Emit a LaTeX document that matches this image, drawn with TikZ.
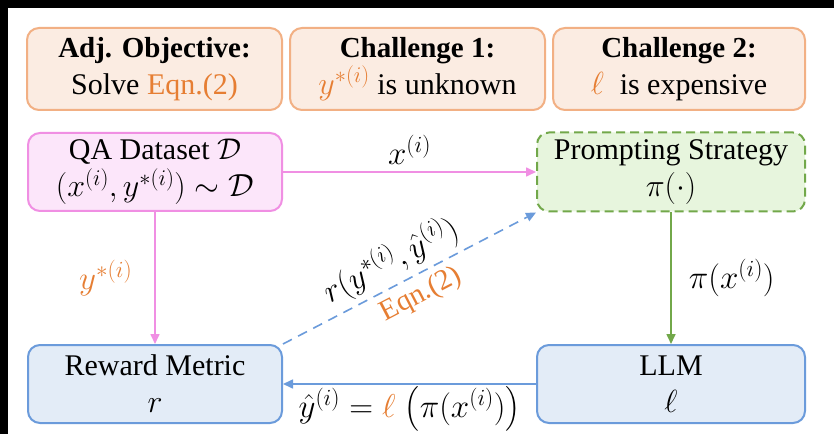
\RequirePackage{fix-cm}
\documentclass[tikz,border=0pt]{standalone}
\usepackage{fontspec}
\setmainfont{Liberation Serif}
\usepackage{amsmath}
\usetikzlibrary{arrows.meta}

\definecolor{accent}{HTML}{E67E33}
\definecolor{topfill}{HTML}{FBECE2}
\definecolor{topdraw}{HTML}{F2B084}
\definecolor{pinkfill}{HTML}{FCE6FA}
\definecolor{pinkdraw}{HTML}{F08FE3}
\definecolor{greenfill}{HTML}{E7F5DD}
\definecolor{greendraw}{HTML}{72A84A}
\definecolor{bluefill}{HTML}{E3ECF7}
\definecolor{bluedraw}{HTML}{6B9BDB}

% larger size for formulas set on their own line
\newcommand{\mathline}[1]{{\fontsize{32}{36}\selectfont #1}}
\newcommand{\headline}[1]{{\fontsize{29}{36}\selectfont\bfseries #1}}

\tikzset{
  x=1pt, y=1pt,
  box/.style={rectangle, rounded corners=12pt, line width=2pt, align=center,
    inner sep=0pt, font=\fontsize{30}{37}\selectfont},
  topbox/.style={box, draw=topdraw, fill=topfill, minimum height=82pt},
  pinkbox/.style={box, draw=pinkdraw, fill=pinkfill, minimum width=254pt, minimum height=78pt},
  greenbox/.style={box, draw=greendraw, fill=greenfill, dash pattern=on 9pt off 5pt,
    minimum width=268pt, minimum height=79pt},
  bluebox/.style={box, draw=bluedraw, fill=bluefill, minimum height=78pt},
  conn/.style={line width=1.6pt, -{Triangle[length=10pt,width=9pt]}},
  lbl/.style={font=\fontsize{33}{38}\selectfont, inner sep=2pt},
}

\begin{document}
\begin{tikzpicture}
  \useasboundingbox (0,0) rectangle (834,434);
  \fill[white] (0,0) rectangle (834,434);
  % dark strips along the top and left edges
  \fill[black] (0,426) rectangle (834,434);
  \fill[black] (0,0) rectangle (8,434);

  % header row
  \node[topbox, minimum width=255pt] (obj) at (154.5,365)
    {\headline{Adj. Objective:}\\ Solve \textcolor{accent}{Eqn.(2)}};
  \node[topbox, minimum width=255pt] (ch1) at (417.5,365)
    {\headline{Challenge 1:}\\ \textcolor{accent}{\mathline{$y^{*(i)}$}} is unknown};
  \node[topbox, minimum width=252pt] (ch2) at (679,365)
    {\headline{Challenge 2:}\\ \textcolor{accent}{\mathline{$\ell$}}\; is expensive};

  % main blocks
  \node[pinkbox] (qa) at (155,262)
    {QA Dataset $\mathcal{D}$\\ \mathline{$(x^{(i)}, y^{*(i)}) \sim \mathcal{D}$}};
  \node[greenbox] (ps) at (671,262)
    {Prompting Strategy\\ \mathline{$\pi(\cdot)$}};
  \node[bluebox, minimum width=254pt] (rm) at (155,50)
    {Reward Metric\\ \mathline{$r$}};
  \node[bluebox, minimum width=268pt] (llm) at (671,50)
    {LLM\\ \mathline{$\ell$}};

  % connectors
  \draw[conn, pinkdraw] (qa.east) -- node[lbl, above=5pt, text=black] {$x^{(i)}$} (ps.west);
  \draw[conn, pinkdraw] (qa.south) -- node[lbl, left=20pt, text=accent] {$y^{*(i)}$} (rm.north);
  \draw[conn, greendraw] (ps.south) -- node[lbl, right=15pt, text=black] {$\pi(x^{(i)})$} (llm.north);
  \draw[conn, bluedraw] (llm.west) -- node[lbl, below=0pt, text=black]
    {$\hat{y}^{(i)} = \textcolor{accent}{\ell}\;\big(\pi(x^{(i)})\big)$} (rm.east);
  \draw[conn, bluedraw, dash pattern=on 10pt off 7pt] (rm.north east) --
    node[lbl, pos=0.47, sloped, above=3pt, text=black] {$r(y^{*(i)}, \hat{y}^{(i)})$}
    node[lbl, pos=0.51, sloped, below=4pt, text=accent, font=\fontsize{29}{32}\selectfont] {Eqn.(2)}
    (ps.south west);
\end{tikzpicture}
\end{document}
